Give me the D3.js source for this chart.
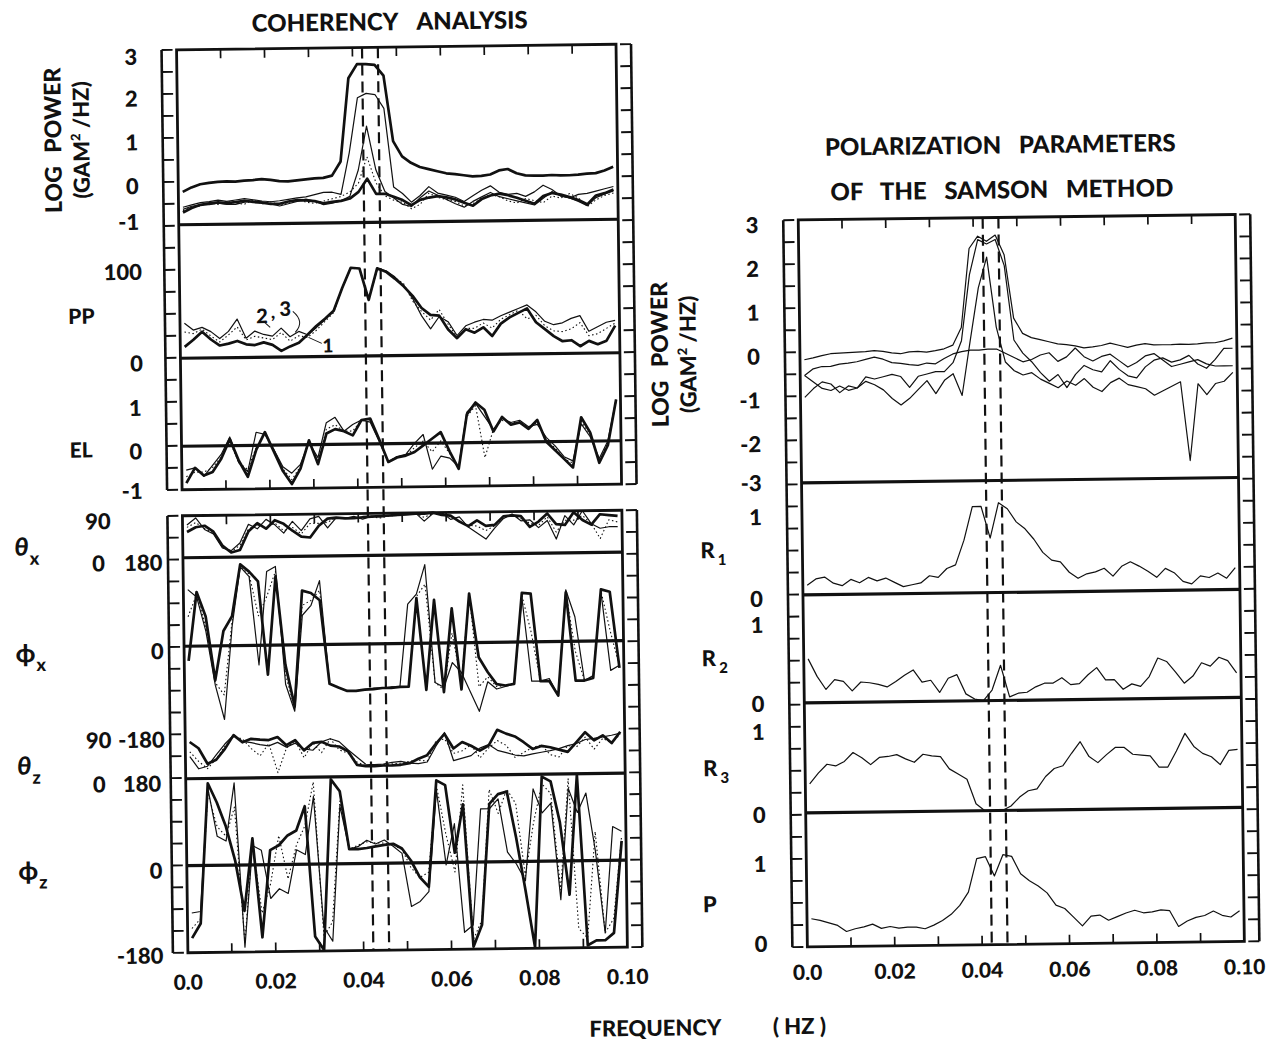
<!DOCTYPE html>
<html>
<head>
<meta charset="utf-8">
<script src="https://cdn.jsdelivr.net/npm/d3@7"></script>
<style>
  body { margin: 0; background: #fff; }
  text { font-family: Lato, "Open Sans", sans-serif; font-weight: 900; fill: #111; }
</style>
</head>
<body>
<div id="chart"></div>
<script>
// ---- data ----
var freq = [0.001,0.003,0.005,0.007,0.009,0.011,0.013,0.015,0.017,0.019,
            0.021,0.023,0.025,0.027,0.029,0.031,0.033,0.035,0.037,0.039,
            0.041,0.043,0.045,0.047,0.049,0.051,0.053,0.055,0.057,0.059,
            0.061,0.063,0.065,0.067,0.069,0.071,0.073,0.075,0.077,0.079,
            0.081,0.083,0.085,0.087,0.089,0.091,0.093,0.095,0.097,0.099];
var xTicks = [0.01,0.02,0.03,0.04,0.05,0.06,0.07,0.08,0.09];
var xLabels = [0, 0.02, 0.04, 0.06, 0.08, 0.10];
var dashFreq = [0.0422, 0.0458];

// coherency analysis: log power
var cohPowTotal = [-0.25,-0.15,-0.08,-0.05,-0.03,-0.02,-0.03,-0.01,0.0,0.02,
                   0.0,-0.03,-0.04,-0.02,0.0,0.02,0.03,0.08,0.4,2.3,
                   2.62,2.62,2.6,2.35,0.85,0.5,0.35,0.25,0.2,0.15,
                   0.1,0.08,0.05,0.02,0.03,0.06,0.15,0.18,0.08,0.03,
                   0.02,0.02,0.03,0.02,0.02,0.03,0.05,0.06,0.12,0.2];
var cohPowMid = [-0.72,-0.62,-0.55,-0.52,-0.5,-0.52,-0.5,-0.47,-0.5,-0.52,
                 -0.55,-0.55,-0.5,-0.47,-0.48,-0.5,-0.55,-0.52,-0.5,-0.45,
                 -0.3,0.0,-0.35,-0.35,-0.42,-0.5,-0.62,-0.5,-0.45,-0.42,
                 -0.45,-0.5,-0.58,-0.65,-0.5,-0.42,-0.38,-0.42,-0.48,-0.55,
                 -0.62,-0.45,-0.38,-0.42,-0.48,-0.55,-0.65,-0.45,-0.4,-0.32];
var cohPowPeak = [-0.6,-0.55,-0.5,-0.48,-0.45,-0.48,-0.45,-0.42,-0.45,-0.48,
                  -0.5,-0.48,-0.45,-0.42,-0.4,-0.35,-0.3,-0.3,-0.35,0.6,
                  1.85,1.95,1.92,1.6,-0.2,-0.35,-0.55,-0.4,-0.2,-0.35,
                  -0.4,-0.45,-0.55,-0.42,-0.3,-0.2,-0.35,-0.4,-0.38,-0.45,
                  -0.35,-0.2,-0.3,-0.45,-0.5,-0.42,-0.4,-0.35,-0.3,-0.25];
var cohPowSpike = [-0.65,-0.58,-0.55,-0.55,-0.52,-0.55,-0.55,-0.5,-0.48,-0.5,
                   -0.55,-0.6,-0.55,-0.5,-0.45,-0.5,-0.58,-0.55,-0.5,-0.4,
                   0.2,1.2,0.2,-0.3,-0.45,-0.6,-0.65,-0.45,-0.3,-0.4,
                   -0.5,-0.6,-0.68,-0.55,-0.45,-0.35,-0.45,-0.5,-0.55,-0.6,
                   -0.65,-0.5,-0.35,-0.45,-0.5,-0.58,-0.68,-0.5,-0.42,-0.35];
var cohPowDot = [-0.68,-0.6,-0.58,-0.5,-0.55,-0.48,-0.52,-0.55,-0.45,-0.55,
                 -0.5,-0.58,-0.52,-0.45,-0.52,-0.55,-0.5,-0.45,-0.4,-0.3,
                 -0.1,0.5,-0.1,-0.4,-0.5,-0.55,-0.7,-0.6,-0.35,-0.45,
                 -0.5,-0.55,-0.65,-0.6,-0.48,-0.4,-0.45,-0.55,-0.6,-0.5,
                 -0.55,-0.6,-0.45,-0.5,-0.4,-0.5,-0.7,-0.55,-0.45,-0.4];

// coherency analysis: percent polarization PP (components 1, 2, 3)
var pp1 = [13,21,30,21,14,16,19,15,14,17,
           14,7,12,16,25,35,43,52,78,101,
           100,64,100,96,88,79,68,54,46,45,
           29,19,29,25,31,21,35,42,47,52,
           36,28,20,14,15,8,14,10,14,31];
var pp2 = [40,32,35,30,22,30,44,22,30,26,
           24,33,23,29,25,33,42,52,78,101,
           100,64,100,97,90,80,65,45,30,44,
           38,22,33,37,40,39,44,48,52,56,
           48,37,33,35,40,43,25,30,35,37];
var pp3 = [30,28,33,25,18,26,35,20,24,22,
           20,28,18,24,22,30,40,50,78,100,
           100,64,98,97,89,82,62,50,40,52,
           35,20,30,30,36,30,40,45,50,40,
           44,32,26,25,28,35,20,22,28,34];

// ellipticity EL
var el1 = [-0.85,-0.5,-0.68,-0.6,-0.3,0.15,-0.35,-0.72,-0.1,0.3,
           -0.15,-0.6,-0.9,-0.55,0.1,-0.45,0.25,0.35,0.3,0.2,
           0.55,0.58,0.1,-0.42,-0.32,-0.28,-0.2,-0.05,0.1,0.25,
           -0.2,-0.6,0.65,0.92,0.75,0.25,0.58,0.4,0.45,0.3,
           0.5,0.0,-0.2,-0.4,-0.6,0.55,0.2,-0.5,-0.1,0.95];
var el2 = [-0.55,-0.5,-0.7,-0.45,-0.2,0.2,-0.4,-0.6,0.3,0.25,
           -0.1,-0.5,-0.65,-0.45,0.05,-0.3,0.5,0.62,0.3,0.45,
           0.55,0.5,0.05,-0.42,-0.3,-0.25,0.0,0.2,-0.6,-0.3,
           -0.35,-0.55,0.7,0.9,0.6,0.3,0.55,0.45,0.5,0.35,
           0.4,0.1,-0.1,-0.35,-0.45,0.4,0.1,-0.4,0.0,0.95];
var el3 = [-0.7,-0.6,-0.6,-0.5,-0.25,0.1,-0.4,-0.55,-0.05,0.28,
           -0.1,-0.55,-0.8,-0.5,0.05,-0.4,0.35,0.45,0.3,0.3,
           0.55,0.55,0.08,-0.42,-0.3,-0.28,-0.1,0.05,-0.2,0.05,
           -0.25,-0.55,0.6,0.85,-0.35,0.3,0.5,0.45,0.45,0.32,
           0.45,0.05,-0.15,-0.4,-0.5,0.45,0.15,-0.45,-0.05,0.9];

// angles (degrees)
var thetaX1 = [55,65,68,55,25,10,15,55,72,60,
               78,70,55,42,40,65,80,82,80,80,
               82,83,84,85,86,87,88,88,90,85,
               83,70,60,72,60,62,80,82,80,57,
               68,85,62,60,87,70,60,82,80,78];
var thetaX2 = [70,85,60,50,20,14,30,70,60,80,
               68,50,75,55,80,85,60,82,80,84,
               78,84,82,84,85,88,90,72,88,90,
               75,80,58,45,32,55,75,85,70,72,
               55,70,30,80,60,90,62,52,55,55];
var thetaX3 = [65,75,62,52,22,12,25,60,68,62,
               72,55,62,48,70,70,72,82,80,82,
               80,82,80,84,85,88,89,80,88,88,
               80,72,62,60,50,60,78,82,75,65,
               60,78,45,70,70,80,62,30,70,65];
var phiX1 = [-30,110,60,-70,30,60,165,150,130,-60,
             140,-40,-125,110,105,90,-80,-88,-95,-95,
             -93,-92,-90,-90,-88,-88,92,-95,88,-100,
             70,-95,100,-30,-60,-85,-88,-85,100,98,
             -80,-80,-110,100,-80,-80,-75,105,100,-55];
var phiX2 = [115,100,30,-80,-150,40,160,140,-40,150,
             160,-80,-135,60,80,130,-80,-88,-95,-95,
             -93,-90,-90,-88,-88,80,100,160,-80,-90,
             -40,-60,-100,-140,-80,-95,-90,-85,90,-80,
             -80,-75,-110,105,50,-80,-70,100,-60,-50];
var phiX3 = [60,105,40,-75,-100,50,160,145,60,100,
             150,-60,-130,80,90,110,-80,-88,-95,-95,
             -93,-91,-90,-89,-88,-88,95,120,-80,-95,
             20,-80,100,-90,-70,-90,-88,-85,95,20,
             -80,-78,-110,102,-20,-80,-72,102,20,-52];
var thetaZ1 = [75,62,30,38,60,88,73,80,78,77,
               83,66,76,55,70,72,64,62,52,24,
               21,21,22,22,23,26,35,42,65,85,
               55,68,60,50,60,92,84,78,66,52,
               58,55,50,45,65,85,68,78,62,85];
var thetaZ2 = [45,20,25,48,70,88,75,72,68,65,
               72,62,70,58,55,72,78,72,55,40,
               25,24,25,28,30,26,25,28,60,88,
               30,35,40,55,62,50,45,40,38,42,
               45,48,52,58,62,70,72,75,78,82];
var thetaZ3 = [55,35,20,40,65,85,80,60,45,70,
               10,60,75,40,70,50,78,55,48,30,
               22,22,24,25,26,30,32,30,70,75,
               45,50,62,35,55,70,60,35,45,55,
               60,40,35,58,55,75,50,72,62,80];
var phiZ1 = [-150,-120,170,130,80,10,-95,55,-150,30,
             40,60,70,120,-150,-178,175,150,30,30,
             32,35,38,40,30,5,-30,-50,170,160,
             20,120,-175,-130,120,140,145,50,-60,-178,
             175,165,80,-70,178,-175,-165,-165,-150,40];
var phiZ2 = [-98,-95,160,60,50,170,-170,40,30,-70,
             -50,-60,30,20,140,-130,-160,120,30,35,
             48,40,48,35,20,-90,-80,-60,150,-5,
             80,-145,-130,110,110,130,20,-5,-40,150,
             100,120,-80,150,100,140,20,-150,70,60];
var phiZ3 = [-130,-110,150,80,60,120,-160,45,-100,-40,
             60,-30,40,80,170,-150,-120,130,30,38,
             45,42,42,38,28,-10,-30,-20,160,60,
             -20,160,-160,-120,150,100,150,120,-30,80,
             160,140,-60,170,-140,-160,60,-150,-120,50];

// Samson method: log power
var samPowA = [-0.19,-0.15,-0.1,-0.06,-0.05,-0.04,-0.03,-0.02,0.0,-0.02,
               -0.06,-0.08,-0.04,-0.03,-0.05,-0.02,0.02,0.1,0.5,2.3,
               2.58,2.46,2.6,2.15,0.7,0.35,0.25,0.2,0.15,0.1,
               0.08,0.05,0.0,0.02,0.05,0.1,0.05,0.0,0.05,0.08,
               0.05,0.05,0.05,0.06,0.05,0.06,0.08,0.08,0.12,0.18];
var samPowB = [-0.55,-0.4,-0.35,-0.35,-0.3,-0.28,-0.25,-0.2,-0.15,-0.2,
               -0.28,-0.3,-0.33,-0.35,-0.3,-0.32,-0.2,-0.1,-0.05,-0.02,
               -0.02,0.0,0.0,-0.1,-0.2,-0.3,-0.25,-0.15,-0.1,-0.3,
               -0.2,0.0,-0.2,-0.3,-0.2,-0.15,-0.3,-0.45,-0.35,-0.2,
               -0.15,-0.3,-0.45,-0.4,-0.35,-0.3,-0.4,-0.45,-0.45,-0.45];
var samPowC = [-1.05,-0.85,-0.7,-0.75,-0.95,-0.8,-0.85,-0.7,-0.78,-0.9,
               -1.1,-1.25,-1.1,-0.9,-0.7,-1.0,-0.7,-0.55,-1.05,0.2,
               1.4,2.1,0.5,-0.3,-0.5,-0.6,-0.55,-0.7,-0.8,-0.9,
               -0.75,-0.85,-0.7,-0.9,-1.0,-0.8,-0.7,-0.85,-0.9,-0.95,
               -1.1,-1.0,-0.9,-0.8,-2.6,-0.85,-1.1,-0.85,-0.8,-0.6];
var samPowD = [-0.55,-0.7,-0.85,-0.9,-0.8,-0.9,-0.85,-0.6,-0.65,-0.6,
               -0.55,-0.6,-0.85,-0.6,-0.55,-0.5,-0.5,-0.3,0.2,1.7,
               2.5,2.4,2.5,1.9,0.2,-0.1,-0.3,-0.55,-0.75,-0.6,
               -0.9,-0.6,-0.4,-0.5,-0.55,-0.3,-0.5,-0.65,-0.7,-0.45,
               -0.3,-0.25,-0.35,-0.3,-0.2,-0.4,-0.5,-0.3,-0.05,-0.05];
var samR1 = [0.11,0.18,0.2,0.13,0.1,0.17,0.13,0.19,0.15,0.18,
             0.13,0.08,0.1,0.12,0.2,0.18,0.28,0.32,0.6,0.98,
             0.98,0.62,1.02,0.95,0.8,0.72,0.6,0.45,0.36,0.34,
             0.22,0.15,0.2,0.22,0.26,0.17,0.28,0.33,0.28,0.22,
             0.15,0.25,0.2,0.1,0.07,0.16,0.14,0.19,0.13,0.25];
var samR2 = [0.5,0.3,0.15,0.26,0.24,0.13,0.23,0.22,0.2,0.17,
             0.23,0.3,0.36,0.22,0.24,0.1,0.26,0.3,0.08,0.02,
             0.0,0.12,0.4,0.04,0.08,0.09,0.15,0.19,0.19,0.25,
             0.17,0.18,0.28,0.36,0.22,0.22,0.11,0.17,0.14,0.25,
             0.46,0.42,0.3,0.17,0.25,0.4,0.36,0.46,0.42,0.28];
var samR3 = [0.33,0.45,0.55,0.53,0.58,0.68,0.62,0.54,0.62,0.63,
             0.65,0.6,0.56,0.65,0.63,0.62,0.48,0.42,0.36,0.08,
             0.0,0.0,0.0,0.05,0.15,0.22,0.24,0.38,0.47,0.5,
             0.64,0.77,0.6,0.53,0.62,0.7,0.7,0.62,0.61,0.6,
             0.47,0.47,0.65,0.85,0.7,0.62,0.58,0.49,0.65,0.66];
var samP = [0.32,0.3,0.27,0.24,0.17,0.2,0.22,0.25,0.2,0.22,
            0.2,0.21,0.21,0.19,0.23,0.28,0.35,0.45,0.6,0.98,
            1.0,0.78,1.02,1.0,0.8,0.72,0.66,0.58,0.44,0.4,
            0.3,0.2,0.31,0.32,0.26,0.3,0.34,0.37,0.34,0.35,
            0.37,0.36,0.18,0.24,0.28,0.3,0.35,0.3,0.28,0.35];

// ---- drawing ----
var W = 1280, H = 1043;
var ink = "#111";
var svg = d3.select("#chart").append("svg").attr("width", W).attr("height", H);
svg.append("rect").attr("width", W).attr("height", H).attr("fill", "#fff");
// the original is a slightly rotated scan
var root = svg.append("g").attr("transform", "rotate(-0.72,640,520)");

var HEAVY = {w: 2.7}, THIN = {w: 1.2}, DOT = {w: 1.1, dash: "1.5,2.5"};

function drawBox(g, x, top, bottom, nLadder) {
  var x0 = x.range()[0], x1 = x.range()[1];
  g.append("rect").attr("x", x0).attr("y", top).attr("width", x1 - x0).attr("height", bottom - top)
    .attr("fill", "none").attr("stroke", ink).attr("stroke-width", 2.8);
  var lad = d3.scaleLinear().domain([0, nLadder]).range([top, bottom]);
  [[x0 - 15, 1], [x1 + 15, -1]].forEach(function(s) {
    g.append("line").attr("x1", s[0]).attr("x2", s[0]).attr("y1", top).attr("y2", bottom)
      .attr("stroke", ink).attr("stroke-width", 2.6);
    g.selectAll(null).data(d3.range(nLadder + 1)).enter().append("line")
      .attr("x1", s[0]).attr("x2", s[0] + s[1] * 11)
      .attr("y1", function(d) { return lad(d); }).attr("y2", function(d) { return lad(d); })
      .attr("stroke", ink).attr("stroke-width", 1.9);
  });
  // inward ticks on top and bottom edges
  [[top, 1], [bottom, -1]].forEach(function(s) {
    g.selectAll(null).data(xTicks).enter().append("line")
      .attr("x1", function(d) { return x(d); }).attr("x2", function(d) { return x(d); })
      .attr("y1", s[0]).attr("y2", s[0] + s[1] * 9)
      .attr("stroke", ink).attr("stroke-width", 1.7);
  });
}

function drawSeries(g, x, y, values, style) {
  var line = d3.line()
    .x(function(d, i) { return x(freq[i]); })
    .y(function(d) { return y(d); });
  g.append("path").datum(values).attr("d", line)
    .attr("fill", "none").attr("stroke", ink)
    .attr("stroke-width", style.w)
    .attr("stroke-dasharray", style.dash || null)
    .attr("stroke-linejoin", "round");
}

function baseline(g, x, yPos) {
  g.append("line").attr("x1", x.range()[0]).attr("x2", x.range()[1])
    .attr("y1", yPos).attr("y2", yPos).attr("stroke", ink).attr("stroke-width", 3.2);
}

// nudge: small vertical shifts of the hand-lettered labels
function tickLabels(g, y, vals, xPos, anchor, nudge) {
  g.selectAll(null).data(vals).enter().append("text")
    .attr("x", xPos)
    .attr("y", function(d, i) { return y(d) + 4 + (nudge ? nudge[i] : 0); })
    .attr("dominant-baseline", "central").attr("text-anchor", anchor)
    .attr("font-size", 22)
    .text(function(d) { return d; });
}

function xAxisLabels(g, x, yPos) {
  g.selectAll(null).data(xLabels).enter().append("text")
    .attr("x", function(d) { return x(d); }).attr("y", yPos)
    .attr("text-anchor", "middle").attr("font-size", 21)
    .text(function(d) { return d === 0 ? "0.0" : d.toFixed(2); });
}

function dashes(g, x, top, bottom) {
  g.selectAll(null).data(dashFreq).enter().append("line")
    .attr("x1", function(d) { return x(d); }).attr("x2", function(d) { return x(d); })
    .attr("y1", top).attr("y2", bottom)
    .attr("stroke", ink).attr("stroke-width", 2.2).attr("stroke-dasharray", "11,6");
}

function vertLabel(g, cx, cy) {
  g.append("text").attr("transform", "translate(" + cx + "," + cy + ") rotate(-90)")
    .attr("text-anchor", "middle").attr("font-size", 23).attr("y", 8)
    .attr("word-spacing", 8).text("LOG POWER");
  var t2 = g.append("text").attr("transform", "translate(" + (cx + 28) + "," + cy + ") rotate(-90)")
    .attr("text-anchor", "middle").attr("font-size", 22).attr("y", 8);
  t2.append("tspan").text("(GAM");
  t2.append("tspan").attr("font-size", 13).attr("dy", -9).text("2");
  t2.append("tspan").attr("dy", 9).text(" /HZ)");
}

function greek(g, sym, sub, xPos, yPos, italic) {
  var t = g.append("text").attr("x", xPos).attr("y", yPos).attr("font-size", 25)
    .attr("font-weight", 700).attr("font-family", "'DejaVu Sans', sans-serif");
  t.append("tspan").attr("font-style", italic ? "italic" : "normal").text(sym);
  t.append("tspan").attr("font-size", 18).attr("dy", 9).attr("dx", 1)
    .attr("font-family", "Lato, sans-serif").attr("font-weight", 900).text(sub);
}

// ===== left: coherency analysis =====
var L = root.append("g");
var xL = d3.scaleLinear().domain([0, 0.1]).range([182.5, 622]);
var powL = d3.scaleLinear().domain([-1, 3]).range([219, 44]);
var ppL = d3.scaleLinear().domain([0, 100]).range([352.5, 265]);
var elL = d3.scaleLinear().domain([-1, 1]).range([484, 397]);
var thxL = d3.scaleLinear().domain([0, 90]).range([552, 510]);
var phxL = d3.scaleLinear().domain([-180, 180]).range([729, 552]);
var thzL = d3.scaleLinear().domain([0, 90]).range([773, 729]);
var phzL = d3.scaleLinear().domain([-180, 180]).range([947, 773]);

L.append("text").attr("x", 396).attr("y", 27).attr("text-anchor", "middle")
  .attr("font-size", 24).attr("word-spacing", 14).text("COHERENCY ANALYSIS");

drawBox(L, xL, 44, 484, 20);
drawBox(L, xL, 510, 947, 20);
dashes(L, xL, 44, 947);

baseline(L, xL, powL(-1));
baseline(L, xL, ppL(0));
baseline(L, xL, elL(0));
baseline(L, xL, thxL(0));
baseline(L, xL, phxL(0));
baseline(L, xL, thzL(0));
baseline(L, xL, phzL(0));

drawSeries(L, xL, powL, cohPowDot, DOT);
drawSeries(L, xL, powL, cohPowSpike, THIN);
drawSeries(L, xL, powL, cohPowPeak, THIN);
drawSeries(L, xL, powL, cohPowMid, HEAVY);
drawSeries(L, xL, powL, cohPowTotal, HEAVY);

drawSeries(L, xL, ppL, pp3, DOT);
drawSeries(L, xL, ppL, pp2, THIN);
drawSeries(L, xL, ppL, pp1, HEAVY);
drawSeries(L, xL, elL, el3, DOT);
drawSeries(L, xL, elL, el2, THIN);
drawSeries(L, xL, elL, el1, HEAVY);

drawSeries(L, xL, thxL, thetaX3, DOT);
drawSeries(L, xL, thxL, thetaX2, THIN);
drawSeries(L, xL, thxL, thetaX1, HEAVY);
drawSeries(L, xL, phxL, phiX3, DOT);
drawSeries(L, xL, phxL, phiX2, THIN);
drawSeries(L, xL, phxL, phiX1, HEAVY);
drawSeries(L, xL, thzL, thetaZ3, DOT);
drawSeries(L, xL, thzL, thetaZ2, THIN);
drawSeries(L, xL, thzL, thetaZ1, HEAVY);
drawSeries(L, xL, phzL, phiZ3, DOT);
drawSeries(L, xL, phzL, phiZ2, THIN);
drawSeries(L, xL, phzL, phiZ1, HEAVY);

tickLabels(L, powL, [3, 2, 1, 0, -1], 143, "end", [2, 0, 0, 0, -8]);
tickLabels(L, ppL, [100, 0], 145, "end", [-4, 0]);
tickLabels(L, elL, [1, 0, -1], 143, "end", [0, 0, -4]);
tickLabels(L, thxL, [90, 0], 98, "middle");
tickLabels(L, phxL, [180, 0, -180], 162, "end");
tickLabels(L, thzL, [90, 0], 96, "middle");
tickLabels(L, phzL, [180, 0, -180], 158, "end", [0, 0, -2]);

vertLabel(L, 58, 133);
L.append("text").attr("x", 84).attr("y", ppL(50) + 8).attr("text-anchor", "middle").attr("font-size", 21).text("PP");
L.append("text").attr("x", 82).attr("y", elL(0) + 10).attr("text-anchor", "middle").attr("font-size", 21).text("EL");
greek(L, "\u03b8", "x", 14, thxL(0) - 4, true);
greek(L, "\u03d5", "x", 14, phxL(0) + 14, false);
greek(L, "\u03b8", "z", 14, thzL(0) - 6, true);
greek(L, "\u03d5", "z", 14, phzL(0) + 12, false);

// component annotations in the PP panel
var ann = L.append("g");
ann.append("text").attr("x", xL(0.0187)).attr("y", ppL(48)).attr("text-anchor", "middle")
  .attr("dominant-baseline", "central").attr("font-size", 20).attr("font-weight", 400).text("2");
ann.append("text").attr("x", xL(0.0212)).attr("y", ppL(44)).attr("text-anchor", "middle")
  .attr("font-size", 18).attr("font-weight", 400).text(",");
ann.append("text").attr("x", xL(0.024)).attr("y", ppL(56)).attr("text-anchor", "middle")
  .attr("dominant-baseline", "central").attr("font-size", 20).attr("font-weight", 400).text("3");
ann.append("text").attr("x", xL(0.0336)).attr("y", ppL(13)).attr("text-anchor", "middle")
  .attr("dominant-baseline", "central").attr("font-size", 19).attr("font-weight", 400).text("1");
ann.append("path")
  .attr("d", "M" + xL(0.0257) + "," + ppL(52) + " Q" + xL(0.0285) + "," + ppL(40) + " " + xL(0.0262) + "," + ppL(28))
  .attr("fill", "none").attr("stroke", ink).attr("stroke-width", 1);
ann.append("line").attr("x1", xL(0.0192)).attr("y1", ppL(40)).attr("x2", xL(0.0205)).attr("y2", ppL(34))
  .attr("stroke", ink).attr("stroke-width", 1);
ann.append("line").attr("x1", xL(0.0322)).attr("y1", ppL(15)).attr("x2", xL(0.0292)).attr("y2", ppL(22))
  .attr("stroke", ink).attr("stroke-width", 1);

// ===== right: Samson method =====
var R = root.append("g");
var xR = d3.scaleLinear().domain([0, 0.1]).range([802, 1239]);
var powR = d3.scaleLinear().domain([-3, 3]).range([485, 222]);
var r1 = d3.scaleLinear().domain([0, 1]).range([597, 509]);
var r2 = d3.scaleLinear().domain([0, 1]).range([705, 617]);
var r3 = d3.scaleLinear().domain([0, 1]).range([815, 727]);
var pR = d3.scaleLinear().domain([0, 1]).range([949, 861]);

R.append("text").attr("x", 1005).attr("y", 158).attr("text-anchor", "middle")
  .attr("font-size", 24).attr("word-spacing", 12).text("POLARIZATION PARAMETERS");
R.append("text").attr("x", 1006).attr("y", 203).attr("text-anchor", "middle")
  .attr("font-size", 24).attr("word-spacing", 12).text("OF THE SAMSON METHOD");

drawBox(R, xR, 222, 949, 33);
dashes(R, xR, 222, 949);
baseline(R, xR, powR(-3));
baseline(R, xR, r1(0));
baseline(R, xR, r2(0));
baseline(R, xR, r3(0));

drawSeries(R, xR, powR, samPowA, THIN);
drawSeries(R, xR, powR, samPowB, THIN);
drawSeries(R, xR, powR, samPowC, THIN);
drawSeries(R, xR, powR, samPowD, THIN);
drawSeries(R, xR, r1, samR1, THIN);
drawSeries(R, xR, r2, samR2, THIN);
drawSeries(R, xR, r3, samR3, THIN);
drawSeries(R, xR, pR, samP, THIN);

tickLabels(R, powR, [3, 2, 1, 0, -1, -2, -3], 762, "end", [0, 0, 0, 0, 0, 0, -5]);
tickLabels(R, r1, [1, 0], 762, "end", [5, -1]);
tickLabels(R, r2, [1, 0], 762, "end", [5, -4]);
tickLabels(R, r3, [1, 0], 762, "end", [2, -3]);
tickLabels(R, pR, [1, 0], 762, "end", [0, -8]);

vertLabel(R, 662, 355);
[["R", "1", r1], ["R", "2", r2], ["R", "3", r3]].forEach(function(s) {
  var t = R.append("text").attr("x", 700).attr("y", s[2](0.5) + 6).attr("font-size", 22);
  t.append("tspan").text(s[0]);
  t.append("tspan").attr("font-size", 15).attr("dy", 7).attr("dx", 3).text(s[1]);
});
R.append("text").attr("x", 698).attr("y", pR(0.5) + 8).attr("font-size", 22).text("P");

// x axes
xAxisLabels(L, xL, 984);
xAxisLabels(R, xR, 982);
root.append("text").attr("x", 649).attr("y", 1036).attr("text-anchor", "middle")
  .attr("font-size", 22).text("FREQUENCY");
root.append("text").attr("x", 793).attr("y", 1036).attr("text-anchor", "middle")
  .attr("font-size", 22).text("( HZ )");
</script>
</body>
</html>
